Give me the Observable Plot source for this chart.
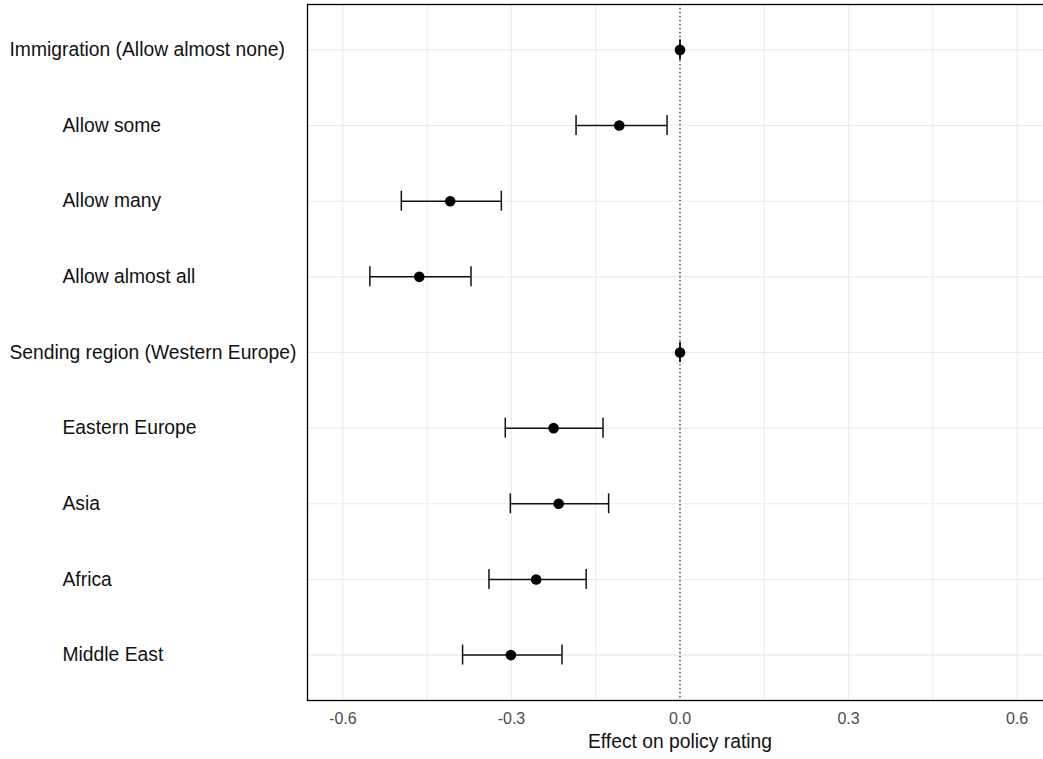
<!DOCTYPE html>
<html>
<head>
<meta charset="utf-8">
<script src="https://cdn.jsdelivr.net/npm/d3@7"></script>
<script src="https://cdn.jsdelivr.net/npm/@observablehq/plot@0.6"></script>
<style>
  html, body { margin: 0; padding: 0; background: #fff; overflow: hidden; }
  #chart svg { display: block; overflow: visible; max-width: none !important; }
</style>
</head>
<body>
<div id="chart"></div>
<script>
const labels = [
  "Immigration (Allow almost none)",
  "Allow some",
  "Allow many",
  "Allow almost all",
  "Sending region (Western Europe)",
  "Eastern Europe",
  "Asia",
  "Africa",
  "Middle East"
];
const isHeader = [true, false, false, false, true, false, false, false, false];
const estimates = [0, -0.108, -0.409, -0.464, 0, -0.225, -0.216, -0.256, -0.301];
const lower     = [0, -0.185, -0.496, -0.552, 0, -0.311, -0.302, -0.340, -0.387];
const upper     = [0, -0.023, -0.318, -0.372, 0, -0.137, -0.127, -0.167, -0.210];
const xTicks = [-0.6, -0.3, 0, 0.3, 0.6];
const xGrid = [-0.6, -0.45, -0.3, -0.15, 0, 0.15, 0.3, 0.45, 0.6];
const xTitle = "Effect on policy rating";

const data = labels.map((label, i) => ({
  label, header: isHeader[i], est: estimates[i], lo: lower[i], hi: upper[i]
}));

const font = "'Liberation Sans', Arial, sans-serif";
const H = 759, MT = 4, MB = 59;
const step = (H - MT - MB) / (labels.length + 0.2);
const capInset = step / 2 - 10;

const chart = Plot.plot({
  width: 1053,
  height: H,
  marginLeft: 307,
  marginRight: 1,
  marginTop: MT,
  marginBottom: MB,
  style: { fontFamily: font, background: "#fff", maxWidth: "none" },
  x: { domain: [-0.663, 0.663] },
  y: { type: "band", domain: labels, paddingInner: 0, paddingOuter: 0.1, round: false },
  marks: [
    Plot.gridX(xGrid, { stroke: "#ebebeb", strokeOpacity: 1, strokeWidth: 1.1 }),
    Plot.gridY({ stroke: "#ebebeb", strokeOpacity: 1, strokeWidth: 1.1 }),
    Plot.ruleX([0], { stroke: "#000", strokeWidth: 1.1, strokeDasharray: "1.2,2.8" }),
    Plot.ruleY(data, { y: "label", x1: "lo", x2: "hi", stroke: "#111", strokeWidth: 1.5 }),
    Plot.tickX(data, { x: "lo", y: "label", stroke: "#111", strokeWidth: 1.5, insetTop: capInset, insetBottom: capInset }),
    Plot.tickX(data, { x: "hi", y: "label", stroke: "#111", strokeWidth: 1.5, insetTop: capInset, insetBottom: capInset }),
    Plot.dot(data, { x: "est", y: "label", r: 5.3, fill: "#000", stroke: "none" }),
    Plot.axisX(xTicks, {
      tickSize: 0, tickPadding: 12, fontSize: 16, fill: "#4d4d4d",
      tickFormat: d => d.toFixed(1), label: null
    }),
    Plot.axisY({ ticks: [], label: null, tickSize: 0 }),
    Plot.text(data.filter(d => d.header), {
      y: "label", text: "label", frameAnchor: "left", dx: -298,
      textAnchor: "start", fontSize: 19.3, fill: "#111"
    }),
    Plot.text(data.filter(d => !d.header), {
      y: "label", text: "label", frameAnchor: "left", dx: -245,
      textAnchor: "start", fontSize: 19.3, fill: "#111"
    }),
    Plot.text([xTitle], {
      frameAnchor: "bottom", dy: 41, text: d => d, textAnchor: "middle",
      lineAnchor: "middle", fontSize: 19.3, fill: "#111"
    }),
    Plot.frame({ stroke: "#000", strokeWidth: 1.3 })
  ]
});
document.getElementById("chart").appendChild(chart);
</script>
</body>
</html>
